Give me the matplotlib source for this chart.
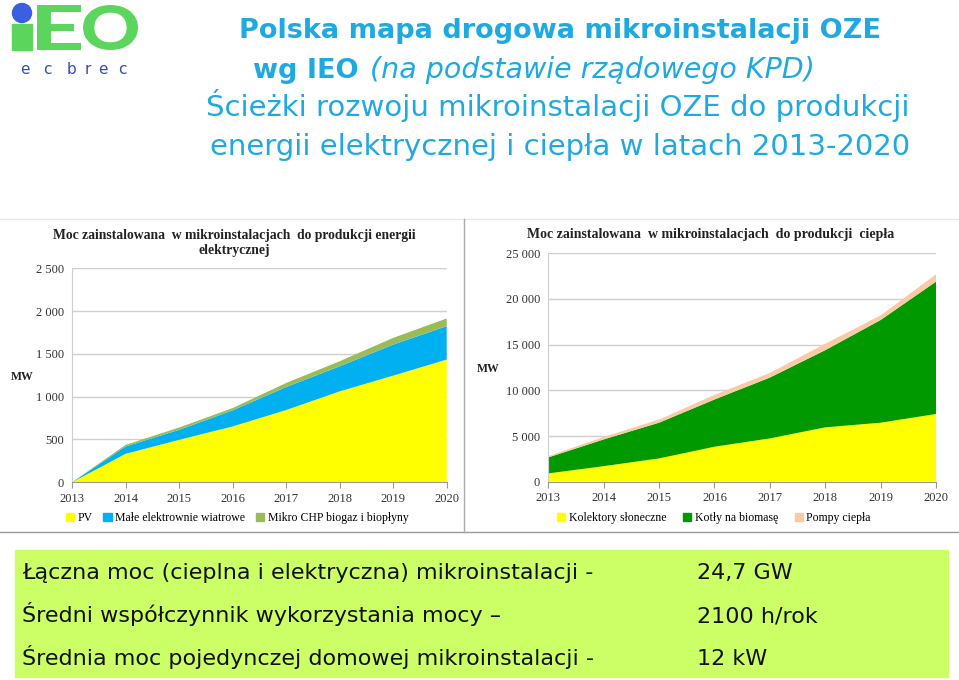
import numpy as np
import matplotlib.pyplot as plt
from matplotlib.patches import Rectangle, Circle, PathPatch
from matplotlib.lines import Line2D
from matplotlib.textpath import TextPath
from matplotlib.font_manager import FontProperties
from matplotlib.transforms import Affine2D
from matplotlib.ticker import FuncFormatter

# data (MW)
years = [2013, 2014, 2015, 2016, 2017, 2018, 2019, 2020]
pv = [0, 332, 496, 652, 844, 1062, 1246, 1434]
wind = [0, 86, 117, 188, 269, 293, 363, 390]
chp = [0, 19, 27, 27, 47, 59, 78, 90]
el_labels = ["PV", "Małe elektrownie wiatrowe", "Mikro CHP biogaz i biopłyny"]

kolektory = [910, 1700, 2550, 3830, 4740, 5950, 6460, 7410]
kotly = [1750, 2930, 3910, 5170, 6660, 8450, 11240, 14490]
pompy = [140, 270, 340, 500, 500, 700, 500, 800]
heat_labels = ["Kolektory słoneczne", "Kotły na biomasę", "Pompy ciepła"]

info_left = ["Łączna moc (cieplna i elektryczna) mikroinstalacji -",
             "Średni współczynnik wykorzystania mocy –",
             "Średnia moc pojedynczej domowej mikroinstalacji -"]
info_right = ["24,7 GW", "2100 h/rok", "12 kW"]

W, H = 959, 680
fig = plt.figure(figsize=(W / 100, H / 100), dpi=100)
fig.patch.set_facecolor("white")

def fx(px):
    return px / W

def fy(py):
    return 1 - py / H

blue = "#1FA9E1"
serif = ["Liberation Serif", "DejaVu Serif"]
sans = ["DejaVu Sans"]

# logo, drawn in pixel coordinates on an overlay axes
lax = fig.add_axes([0, 0, 1, 1])
lax.set_xlim(0, W)
lax.set_ylim(H, 0)
lax.axis("off")
lax.add_patch(Rectangle((12, 24), 20, 26, color="#5BD55B"))
lax.add_patch(Circle((22, 13), 9.5, color="#3A5FE0"))
fp = FontProperties(family=["Lato", "DejaVu Sans"], weight="black")
for ch, x0, x1 in [("E", 37, 81), ("O", 83, 138)]:
    tp = TextPath((0, 0), ch, size=1, prop=fp)
    ext = tp.get_extents()
    sx = (x1 - x0) / ext.width
    sy = 45 / ext.height
    tr = Affine2D().translate(-ext.x0, -ext.y0).scale(sx, -sy).translate(x0, 50)
    lax.add_patch(PathPatch(tr.transform_path(tp), color="#5BD55B", lw=0))
for ch, xp in zip("ecbrec", [25, 47, 71, 88, 103, 122]):
    lax.text(xp, 74, ch, fontsize=11, color="#2F4FA8", family=sans,
             va="baseline", ha="center")

# titles
fig.text(fx(560), fy(38), "Polska mapa drogowa mikroinstalacji OZE", fontsize=19.5,
         fontweight="bold", color=blue, family=sans, ha="center", va="baseline")
fig.text(fx(253), fy(78), "wg IEO", fontsize=19.5, fontweight="bold", color=blue,
         family=sans, ha="left", va="baseline")
fig.text(fx(370), fy(78), "(na podstawie rządowego KPD)", fontsize=20.5, style="italic",
         color=blue, family=sans, ha="left", va="baseline")
fig.text(fx(558), fy(116), "Ścieżki rozwoju mikroinstalacji OZE do produkcji", fontsize=21,
         color=blue, family=sans, ha="center", va="baseline")
fig.text(fx(560), fy(155), "energii elektrycznej i ciepła w latach 2013-2020", fontsize=21,
         color=blue, family=sans, ha="center", va="baseline")

# panel frame lines
fig.add_artist(Line2D([fx(0), fx(959)], [fy(219), fy(219)], color="#e6e6e6", lw=1))
fig.add_artist(Line2D([fx(0), fx(959)], [fy(532), fy(532)], color="#999999", lw=1))
fig.add_artist(Line2D([fx(464), fx(464)], [fy(219), fy(532)], color="#aaaaaa", lw=1))

fmt = FuncFormatter(lambda v, p: f"{int(v):,}".replace(",", " "))

def style_ax(ax):
    ax.set_xlim(2013, 2020)
    ax.set_xticks(years)
    ax.grid(axis="y", color="#cfcfcf", lw=1)
    ax.set_axisbelow(True)
    for s in ["top", "right"]:
        ax.spines[s].set_visible(False)
    ax.spines["left"].set_color("#cfcfcf")
    ax.spines["bottom"].set_color("#999999")
    ax.tick_params(axis="y", length=0, labelsize=9, pad=6)
    ax.tick_params(axis="x", length=4, color="#999999", labelsize=9)
    for lab in ax.get_xticklabels() + ax.get_yticklabels():
        lab.set_family(serif)
        lab.set_color("#333333")
    ax.yaxis.set_major_formatter(fmt)

leg_kw = dict(loc="center", ncol=3, frameon=False, prop={"family": serif, "size": 8.5},
              handlelength=0.7, handleheight=0.7, handletextpad=0.3)

# electricity chart
ax1 = fig.add_axes([fx(72), fy(482.3), fx(446.7 - 72), (482.3 - 268.3) / H])
el_colors = ["#FFFF00", "#00B0F0", "#9BBB59"]
ax1.stackplot(years, pv, wind, chp, colors=el_colors, lw=0)
ax1.set_ylim(0, 2500)
ax1.set_yticks(range(0, 2501, 500))
style_ax(ax1)
fig.text(fx(234), fy(239), "Moc zainstalowana  w mikroinstalacjach  do produkcji energii",
         fontsize=9.8, fontweight="bold", family=serif, ha="center", va="baseline", color="#222")
fig.text(fx(234), fy(254), "elektrycznej", fontsize=9.8, fontweight="bold", family=serif,
         ha="center", va="baseline", color="#222")
fig.text(fx(11), fy(380), "MW", fontsize=8.5, fontweight="bold", family=serif, color="#222")
h1 = [Rectangle((0, 0), 1, 1, color=c) for c in el_colors]
fig.legend(h1, el_labels, bbox_to_anchor=(fx(237), fy(518)), columnspacing=0.9, **leg_kw)

# heat chart
ax2 = fig.add_axes([fx(548.3), fy(481.7), fx(936 - 548.3), (481.7 - 253.3) / H])
heat_colors = ["#FFFF00", "#009A00", "#F9C9A8"]
ax2.stackplot(years, kolektory, kotly, pompy, colors=heat_colors, lw=0)
ax2.set_ylim(0, 25000)
ax2.set_yticks(range(0, 25001, 5000))
style_ax(ax2)
fig.text(fx(711), fy(238), "Moc zainstalowana  w mikroinstalacjach  do produkcji  ciepła",
         fontsize=10, fontweight="bold", family=serif, ha="center", va="baseline", color="#222")
fig.text(fx(477), fy(372), "MW", fontsize=8.5, fontweight="bold", family=serif, color="#222")
h2 = [Rectangle((0, 0), 1, 1, color=c) for c in heat_colors]
fig.legend(h2, heat_labels, bbox_to_anchor=(fx(714), fy(518)), columnspacing=1.4, **leg_kw)

# info box
fig.patches.append(Rectangle((fx(15), fy(677)), fx(948 - 15), (677 - 550) / H,
                             transform=fig.transFigure, color="#CCFF66", zorder=0))
for i, (a, b) in enumerate(zip(info_left, info_right)):
    y = fy(579 + i * 43)
    fig.text(fx(22), y, a, fontsize=16, family=sans, color="#111", va="baseline")
    fig.text(fx(697), y, b, fontsize=16, family=sans, color="#111", va="baseline")

fig.savefig("out.png", dpi=100, facecolor="white")
